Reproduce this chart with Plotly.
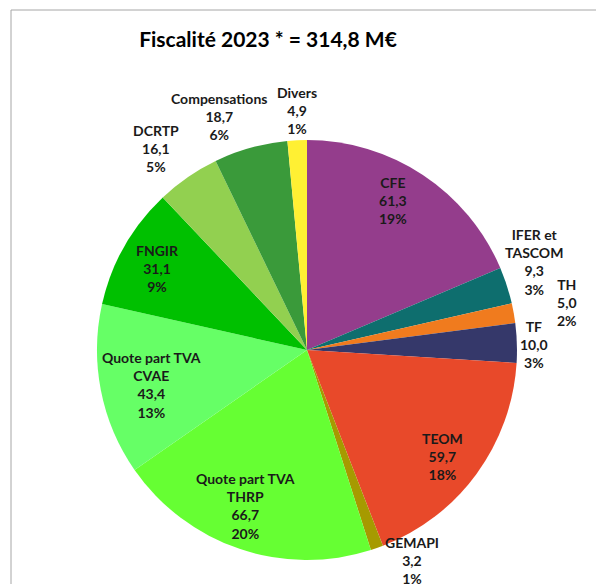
import math
import plotly.graph_objects as go

# Fiscal revenue breakdown, 2023 (M€)
labels = ["CFE", "IFER et<br>TASCOM", "TH", "TF", "TEOM", "GEMAPI",
          "Quote part TVA<br>THRP", "Quote part TVA<br>CVAE", "FNGIR",
          "DCRTP", "Compensations", "Divers"]
values = [61.3, 9.3, 5.0, 10.0, 59.7, 3.2, 66.7, 43.4, 31.1, 16.1, 18.7, 4.9]
colors = ["#943D8C", "#0E6E6E", "#F07B1E", "#35386A", "#E8492A", "#A69A00",
          "#66FF33", "#66FF66", "#00C000", "#92D050", "#3A9A3A", "#FFF033"]
title_text = "Fiscalité 2023 * = 314,8 M€"

# label placement: (distance as a fraction of the radius, angular nudge in degrees)
label_place = {
    "CFE": (0.82, -3.5), "IFER et<br>TASCOM": (1.16, -3.3), "TH": (1.26, -0.3),
    "TF": (1.08, 0.6), "TEOM": (0.82, 2.0), "GEMAPI": (1.12, -7.1),
    "Quote part TVA<br>THRP": (0.80, 2.8), "Quote part TVA<br>CVAE": (0.76, -1.6),
    "FNGIR": (0.81, -0.9), "DCRTP": (1.20, -2.2), "Compensations": (1.19, -5.1),
    "Divers": (1.14, 0.3),
}

total = sum(values)
value_txt = [f"{v:.1f}".replace(".", ",") for v in values]
pct_txt = [f"{round(v / total * 100):d}%" for v in values]

W, H = 596, 584
cx, cy, r = 307, 350, 210

fig = go.Figure(go.Pie(
    labels=labels,
    values=values,
    sort=False,
    direction="clockwise",
    rotation=0,
    marker=dict(colors=colors, line=dict(width=0)),
    textinfo="none",
    hoverinfo="label+value",
    showlegend=False,
    automargin=False,
    domain=dict(x=[(cx - r) / W, (cx + r) / W],
                y=[1 - (cy + r) / H, 1 - (cy - r) / H]),
))

# data labels at each slice's mid-angle (clockwise from 12 o'clock)
annotations = []
cum = 0.0
for lab, v, vt, pt in zip(labels, values, value_txt, pct_txt):
    mid = (cum + v / 2) / total * 360
    cum += v
    k, nudge = label_place[lab]
    a = math.radians(mid + nudge)
    px = cx + k * r * math.sin(a)
    py = cy - k * r * math.cos(a)
    annotations.append(dict(
        x=px / W, y=1 - py / H, xref="paper", yref="paper",
        text=f"<b>{lab}<br>{vt}<br>{pt}</b>", showarrow=False,
        xanchor="center", yanchor="middle", align="center",
        font=dict(family="Lato", size=14, color="#1a1a1a"),
    ))

fig.update_layout(
    width=W, height=H,
    margin=dict(l=0, r=0, t=0, b=0),
    paper_bgcolor="white",
    title=dict(text=f"<b>{title_text}</b>", x=268 / W, xanchor="center",
               y=1 - 40 / H, yanchor="middle",
               font=dict(family="Lato", size=21, color="black")),
    font=dict(family="Lato"),
    annotations=annotations,
    shapes=[dict(type="rect", xref="paper", yref="paper",
                 x0=11 / W, x1=1.05, y0=-0.05, y1=1 - 10 / H,
                 line=dict(color="#A6A6A6", width=1))],
)

fig.write_html("out.html")
